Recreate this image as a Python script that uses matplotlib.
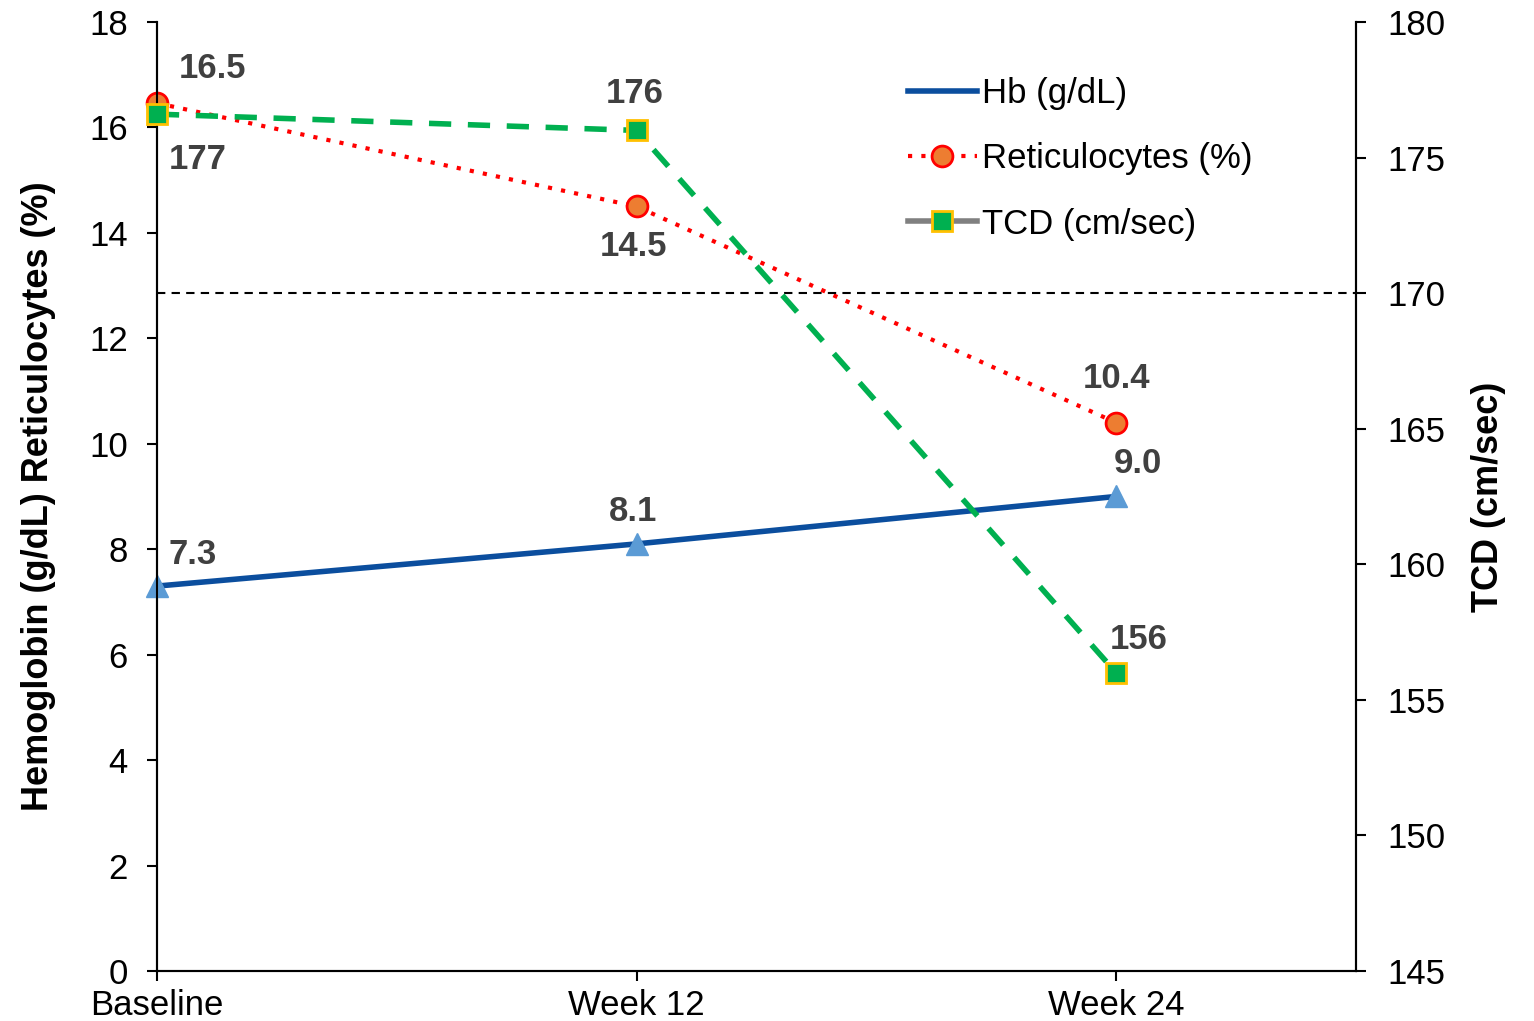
import matplotlib.pyplot as plt
from matplotlib.lines import Line2D

plt.rcParams['font.family'] = ['Liberation Sans', 'DejaVu Sans']

# data
visits = ['Baseline', 'Week 12', 'Week 24']
hb = [7.3, 8.1, 9.0]
retic = [16.46, 14.5, 10.4]
tcd = [176.6, 176.0, 156.0]
tcd_threshold = 170

# label offsets in pixels
hb_off = [(36, 32), (-3, 32), (22, 33)]
retic_off = [(56, 35), (-3, -40), (0, 44)]
tcd_off = [(41, -45), (-2, 37), (23, 33)]

x = list(range(len(visits)))
lab_col = '#404040'

fig = plt.figure(figsize=(15.34, 10.21), dpi=100)
ax = fig.add_axes([0.1023, 0.049, 0.7816, 0.9295])
ax2 = ax.twinx()

ax.plot(x, hb, color='#0B4E9E', lw=4, marker='^', ms=16,
        mfc='#5B9BD5', mec='#5B9BD5', zorder=3, clip_on=False)
ax.plot(x, retic, color='#FF0000', lw=3, ls=(0, (1, 2.2)), marker='o', ms=15,
        mfc='#ED7D31', mec='#FF0000', mew=2, zorder=3, clip_on=False)
ax2.plot(x, tcd, color='#00B050', lw=4, ls=(0, (4, 3)), marker='s', ms=15,
         mfc='#00B050', mec='#FFC000', mew=2, zorder=3, clip_on=False)
ax2.axhline(tcd_threshold, color='black', lw=1.5, ls=(0, (4, 3)), zorder=1)

for xi, v, o in zip(x, hb, hb_off):
    ax.annotate(f'{v:.1f}', (xi, v), xytext=o, textcoords='offset pixels',
                ha='center', va='center', fontsize=25, fontweight='bold', color=lab_col)
for xi, v, o in zip(x, retic, retic_off):
    ax.annotate(f'{v:.1f}', (xi, v), xytext=o, textcoords='offset pixels',
                ha='center', va='center', fontsize=25, fontweight='bold', color=lab_col)
for xi, v, o in zip(x, tcd, tcd_off):
    ax2.annotate(f'{v:.0f}', (xi, v), xytext=o, textcoords='offset pixels',
                 ha='center', va='center', fontsize=25, fontweight='bold', color=lab_col)

ax.set_xlim(0, 2.5)
ax.set_ylim(0, 18)
ax.set_yticks(range(0, 19, 2))
ax2.set_ylim(145, 180)
ax2.set_yticks(range(145, 181, 5))
ax.set_xticks(x)
ax.set_xticklabels(visits)

for a in (ax, ax2):
    a.spines['top'].set_visible(False)
    for s in a.spines.values():
        s.set_linewidth(1.5)
    a.tick_params(labelsize=25, length=7, width=1.5, pad=14)
ax.tick_params(axis='x', pad=6)
ax2.tick_params(axis='y', pad=16)

ax.set_ylabel('Hemoglobin (g/dL) Reticulocytes (%)', fontsize=26,
              fontweight='bold', labelpad=24)
ax2.set_ylabel('TCD (cm/sec)', fontsize=26, fontweight='bold', labelpad=18)

handles = [
    Line2D([], [], color='#0B4E9E', lw=4),
    Line2D([], [], color='#FF0000', lw=3, ls=(0, (1, 2.2)), marker='o', ms=15,
           mfc='#ED7D31', mec='#FF0000', mew=2),
    Line2D([], [], color='#808080', lw=4, marker='s', ms=15,
           mfc='#00B050', mec='#FFC000', mew=2),
]
ax2.legend(handles, ['Hb (g/dL)', 'Reticulocytes (%)', 'TCD (cm/sec)'],
           loc='upper left', bbox_to_anchor=(0.6, 0.975), frameon=False,
           fontsize=25, handlelength=2.0, handletextpad=0.15, labelspacing=0.93)

fig.savefig('out.png', dpi=100)
